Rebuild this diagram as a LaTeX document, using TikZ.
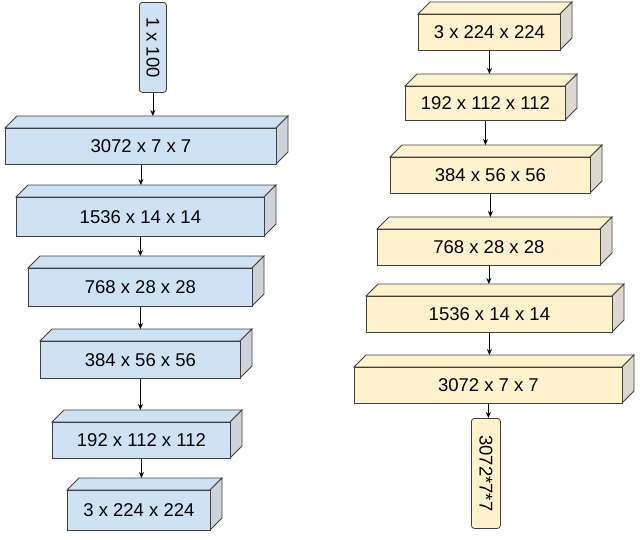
\documentclass[tikz,border=0pt]{standalone}
\usepackage{fontspec}
\setmainfont{Liberation Sans}
\usetikzlibrary{arrows.meta}
\begin{document}
\begin{tikzpicture}[x=1pt,y=-1pt,
  face/.style={draw=black!75,line width=0.8pt},
  lbl/.style={font=\fontsize{18.5}{21}\selectfont},
  arr/.style={-{Stealth[length=6pt,width=5pt]},line width=0.7pt}]
\useasboundingbox (0,0) rectangle (640,539);
\newcommand\blk[7]{% name,x1,y1,x2,y2,fill,text
  \fill[#6,face] (#2,#3) -- ++(12,-12) -- (#4+12,#3-12) -- (#4,#3) -- cycle;
  \fill[#6!70!black!45!white,face] (#4,#3) -- ++(12,-12) -- (#4+12,#5-12) -- (#4,#5) -- cycle;
  \node[face,fill=#6,minimum width=#4-#2,minimum height=#5-#3,inner sep=0,anchor=north west,lbl] (#1) at (#2,#3) {#7};
  \coordinate (#1t) at ({(#2+#4)/2+6},#3-12);
}
\definecolor{bl}{HTML}{CFE2F3}
\definecolor{yl}{HTML}{FFF2CC}
\node[face,fill=bl,rounded corners=3pt,minimum width=27,minimum height=90,inner sep=0,anchor=north west] (a0) at (139,2) {};
\node[lbl,rotate=-90] at (a0) {1 x 100};
\blk{a1}{5}{128}{276}{164}{bl}{3072 x 7 x 7}
\blk{a2}{16}{197}{264}{236}{bl}{1536 x 14 x 14}
\blk{a3}{28}{268}{252}{306}{bl}{768 x 28 x 28}
\blk{a4}{40}{341}{240}{378}{bl}{384 x 56 x 56}
\blk{a5}{52}{422}{230}{458}{bl}{192 x 112 x 112}
\blk{a6}{67}{490}{210}{530}{bl}{3 x 224 x 224}
\draw[arr] (a0.south) -- (a0.south |- a1t);
\draw[arr] (a1.south) -- (a1.south |- a2t);
\draw[arr] (a2.south) -- (a2.south |- a3t);
\draw[arr] (a3.south) -- (a3.south |- a4t);
\draw[arr] (a4.south) -- (a4.south |- a5t);
\draw[arr] (a5.south) -- (a5.south |- a6t);
\blk{b1}{418}{14}{560}{50}{yl}{3 x 224 x 224}
\blk{b2}{405}{86}{565}{120}{yl}{192 x 112 x 112}
\blk{b3}{390}{157}{590}{193}{yl}{384 x 56 x 56}
\blk{b4}{377}{229}{600}{265}{yl}{768 x 28 x 28}
\blk{b5}{366}{296}{612}{332}{yl}{1536 x 14 x 14}
\blk{b6}{354}{367}{622}{403}{yl}{3072 x 7 x 7}
\node[face,fill=yl,rounded corners=3pt,minimum width=29,minimum height=110,inner sep=0,anchor=north west] (b7) at (471,418) {};
\node[lbl,rotate=-90] at (b7) {3072*7*7};
\draw[arr] (b1.south) -- (b1.south |- b2t);
\draw[arr] (b2.south) -- (b2.south |- b3t);
\draw[arr] (b3.south) -- (b3.south |- b4t);
\draw[arr] (b4.south) -- (b4.south |- b5t);
\draw[arr] (b5.south) -- (b5.south |- b6t);
\draw[arr] (b6.south) -- (b6.south |- b7.north);
\end{tikzpicture}
\end{document}
